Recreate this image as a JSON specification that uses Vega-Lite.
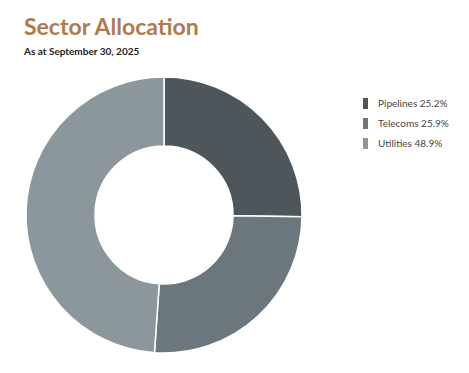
{
  "$schema": "https://vega.github.io/schema/vega-lite/v6.json",
  "width": 276,
  "height": 276,
  "autosize": {"type": "none"},
  "padding": {"left": 26, "top": 77, "right": 167, "bottom": 20},
  "background": "white",
  "title": {
    "text": "Sector Allocation",
    "subtitle": "As at September 30, 2025",
    "anchor": "start",
    "frame": "group",
    "orient": "top",
    "font": "Lato",
    "fontSize": 23,
    "fontWeight": "bold",
    "color": "#b07a4f",
    "subtitleFont": "Lato",
    "subtitleFontSize": 10,
    "subtitleFontWeight": "bold",
    "subtitleColor": "#222222",
    "subtitlePadding": 7,
    "offset": 17,
    "dx": -2
  },
  "data": {
    "values": [
      {"sector": "Pipelines", "label": "Pipelines 25.2%", "value": 25.2, "order": 1},
      {"sector": "Telecoms", "label": "Telecoms 25.9%", "value": 25.9, "order": 2},
      {"sector": "Utilities", "label": "Utilities 48.9%", "value": 48.9, "order": 3}
    ]
  },
  "mark": {"type": "arc", "innerRadius": 69, "outerRadius": 138, "stroke": "white", "strokeWidth": 1.5},
  "encoding": {
    "theta": {"field": "value", "type": "quantitative", "stack": true},
    "order": {"field": "order", "type": "quantitative"},
    "color": {
      "field": "label",
      "type": "nominal",
      "scale": {
        "domain": ["Pipelines 25.2%", "Telecoms 25.9%", "Utilities 48.9%"],
        "range": ["#4e565b", "#6c777d", "#8b979d"]
      },
      "legend": {
        "title": null,
        "orient": "none",
        "legendX": 334,
        "legendY": 21,
        "symbolType": "M-0.45,-1H0.45V1H-0.45Z",
        "symbolSize": 121,
        "symbolStrokeWidth": 0,
        "labelFont": "Lato",
        "labelFontSize": 10,
        "labelColor": "#444444",
        "labelOffset": 7,
        "rowPadding": 9
      }
    }
  },
  "config": {"view": {"stroke": null}}
}
